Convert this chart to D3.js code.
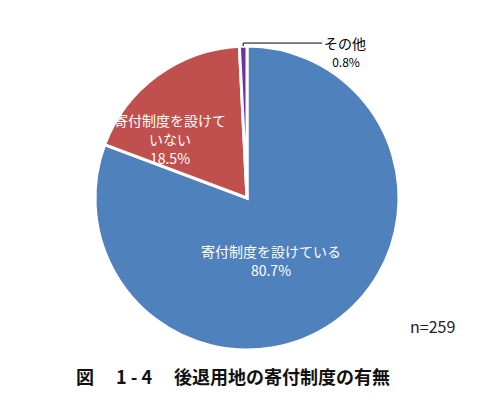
<!DOCTYPE html>
<html><head><meta charset="utf-8">
<script src="https://cdn.jsdelivr.net/npm/d3@7"></script>
<style>body{margin:0;background:#fff}</style>
</head><body>
<script>
const categories = ["寄付制度を設けている", "寄付制度を設けていない", "その他"];
const values = [80.7, 18.5, 0.8];
const colors = ["#4f81bd", "#c0504d", "#7030a0"];

const width = 502, height = 412;
const cx = 247, cy = 198, r = 152;
const font = "'Noto Sans CJK JP', sans-serif";

const svg = d3.select("body").append("svg")
    .attr("width", width).attr("height", height)
    .style("font-family", font);

const pie = d3.pie().sort(null)(values);
const arc = d3.arc().innerRadius(0).outerRadius(r);

const g = svg.append("g").attr("transform", `translate(${cx},${cy})`);
g.selectAll("path").data(pie).join("path")
    .attr("d", arc)
    .attr("fill", (d, i) => colors[i])
    .attr("stroke", "#fff")
    .attr("stroke-width", 3);

// labels inside
const label = (x, y, lines, fill, size) => {
    const t = svg.append("text").attr("text-anchor", "middle").attr("fill", fill).attr("font-size", size);
    lines.forEach((s, i) => t.append("tspan").attr("x", x).attr("y", y + i * 19).text(s));
};
label(271, 257, ["寄付制度を設けている", values[0] + "%"], "#fff", 14);
label(170, 126, ["寄付制度を設けて", "いない", values[1] + "%"], "#fff", 14);

// その他 leader
const mid = (pie[2].startAngle + pie[2].endAngle) / 2;
const px = cx + Math.sin(mid) * r, py = cy - Math.cos(mid) * r;
svg.append("path")
    .attr("d", `M${px},${py}L${px},${py - 3}L322,${py - 3}`)
    .attr("fill", "none").attr("stroke", "#000").attr("stroke-width", 1);
label(345, 49, ["その他"], "#000", 14);
label(346, 67, [values[2] + "%"], "#000", 12);

svg.append("text").attr("x", 410).attr("y", 333).attr("font-size", 16).attr("fill", "#222").text("n=259");

svg.append("text").attr("x", 233).attr("y", 384).attr("text-anchor", "middle")
    .attr("font-size", 18).attr("font-weight", "bold").attr("fill", "#111")
    .attr("xml:space", "preserve")
    .text("図　 1 - 4　 後退用地の寄付制度の有無");
</script>
</body></html>
